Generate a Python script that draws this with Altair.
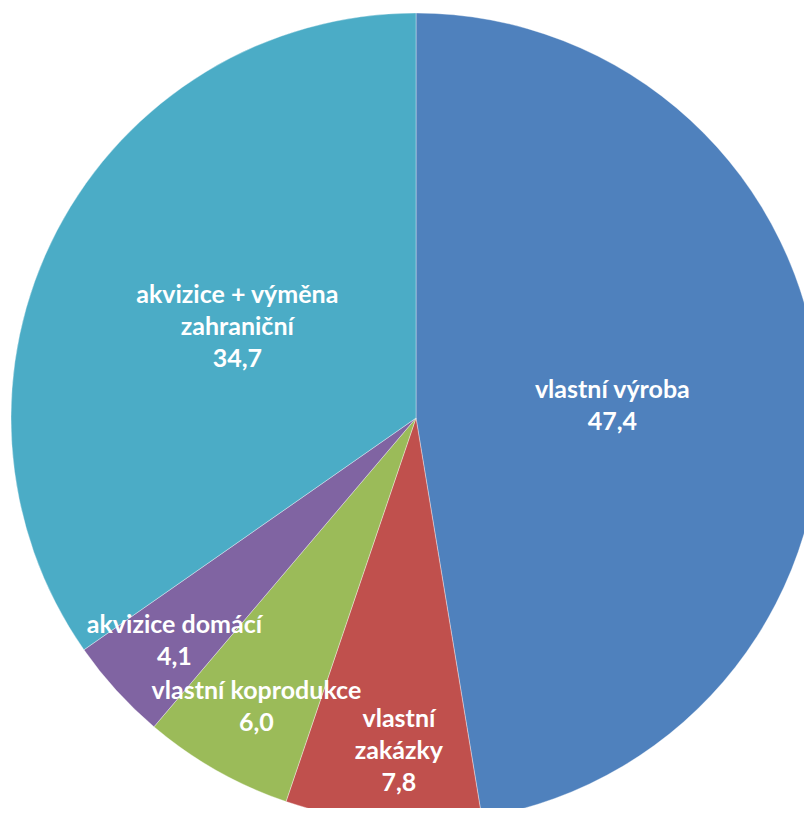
import altair as alt
import pandas as pd

categories = ["vlastní výroba", "vlastní zakázky", "vlastní koprodukce",
              "akvizice domácí", "akvizice + výměna zahraniční"]
values = [47.4, 7.8, 6.0, 4.1, 34.7]
label_lines = [
    ["vlastní výroba", "47,4"],
    ["vlastní", "zakázky", "7,8"],
    ["vlastní koprodukce", "6,0"],
    ["akvizice domácí", "4,1"],
    ["akvizice + výměna", "zahraniční", "34,7"],
]
colors = ["#4F81BD", "#C0504D", "#9BBB59", "#8064A2", "#4BACC6"]

df = pd.DataFrame({
    "kategorie": categories,
    "hodnota": values,
    "popisek": label_lines,
    "poradi": list(range(len(categories))),
})

base = alt.Chart(df).encode(
    theta=alt.Theta("hodnota:Q", stack=True),
    order=alt.Order("poradi:Q", sort="ascending"),
    x=alt.value(408),
    y=alt.value(410),
)

pie = base.mark_arc(radius=405, stroke="white", strokeWidth=0.6, strokeOpacity=0.6).encode(
    color=alt.Color("kategorie:N", sort=categories,
                    scale=alt.Scale(domain=categories, range=colors), legend=None),
)

text_style = dict(font="Lato", fontWeight="bold", fontSize=25, color="white",
                  align="center", baseline="middle", lineHeight=32)


def label_layer(inner, n_lines, radius, dx=0, dy_extra=0):
    size_test = "datum.hodnota > 20" if inner else "datum.hodnota <= 20"
    cond = f"{size_test} && length(datum.popisek) == {n_lines}"
    return base.mark_text(
        radius=radius, dx=dx, dy=-(n_lines - 1) * 16 + dy_extra, **text_style
    ).transform_calculate(
        t=f"{cond} ? datum.popisek : ''"
    ).encode(text="t:N")


layers = [
    pie,
    label_layer(True, 2, 197, dy_extra=4),
    label_layer(True, 3, 197, dx=-4),
    label_layer(False, 2, 332, dx=4),
    label_layer(False, 3, 332, dx=10, dy_extra=2),
]

chart = alt.layer(*layers).properties(
    width=796, height=800, padding=0, autosize=alt.AutoSizeParams(type="none")
).configure_view(stroke=None)

chart.save("out.html", embed_options={"renderer": "svg", "actions": False})
